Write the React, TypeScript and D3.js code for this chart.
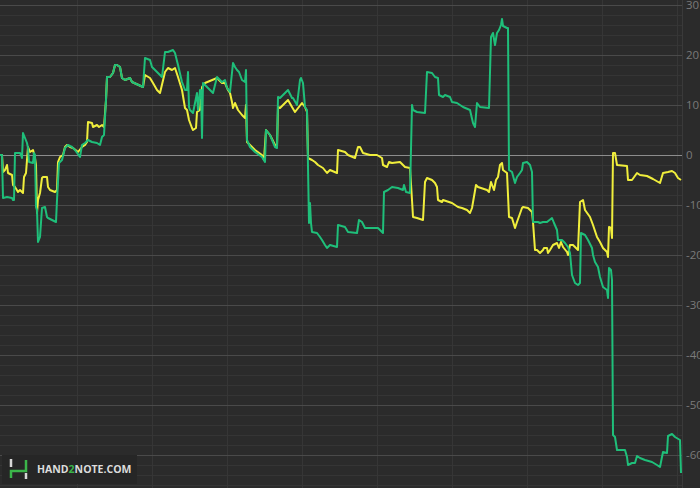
import React from "react";
import * as d3 from "d3";

// Hand number vs. winnings (big blinds) for two series
const greenSeries: [number, number][] = [
  [0, 0], [2, 0], [3, -8.6], [7, -8.4], [12, -8.6], [13, -9], [14, -9], [15, 0.4], [20, 0.4], [21, 0], [22, -0.6],
  [23, 4.4], [25, 3.4], [27, 2.4], [28, 1.4], [29, -1.4], [33, -1.6], [34, 0.4], [35, 0], [36, -10.4], [37, -11],
  [38, -17.4], [40, -16.4], [42, -10.6], [45, -10.4], [47, -12.4], [48, -12.6], [52, -13], [56, -13.4], [57, -9],
  [59, -1.6], [62, -1], [65, 1.4], [68, 2], [72, 1.6], [75, 1], [80, -0.4], [82, 2], [85, 2.4], [88, 3], [92, 2.6],
  [97, 2.4], [100, 2], [102, 3.6], [104, 4], [106, 11], [107, 15.6], [110, 15.6], [113, 16.4], [115, 18], [117, 18],
  [120, 17.6], [122, 15.4], [125, 15], [130, 15.4], [132, 14.6], [143, 13.6], [145, 19.4], [150, 19], [152, 17.6],
  [157, 16.6], [162, 15.6], [165, 20.6], [168, 20.6], [173, 21], [175, 20.4], [178, 18], [182, 14.6], [185, 13],
  [187, 13], [188, 16.6], [189, 9.6], [190, 9], [193, 8.4], [197, 12.4], [198, 9], [200, 13], [201, 13], [202, 3.4],
  [203, 14.4], [207, 13.6], [213, 12.4], [217, 15.6], [222, 14.6], [225, 15], [227, 13.4], [230, 12.6], [233, 18.4],
  [235, 17.6], [237, 17], [239, 16.6], [242, 15], [245, 14.6], [246, 17], [247, 3], [250, 1.6], [255, 0.6],
  [262, -0.4], [265, -1.4], [266, 5], [270, 4], [275, 1.6], [277, 1.4], [278, 11.6], [280, 11.4], [288, 13],
  [292, 11.4], [293, 11.4], [297, 10], [300, 15], [301, 15.4], [303, 14.4], [305, 9.6], [307, 9], [309, -13.6],
  [310, -9.6], [311, -13.6], [312, -15.4], [317, -15.6], [320, -16.4], [322, -17], [325, -18], [327, -18.6],
  [330, -18], [337, -18.4], [338, -14], [345, -14.4], [348, -15.4], [357, -15.6], [359, -13], [362, -13.4],
  [365, -14.6], [378, -14.6], [383, -15.6], [384, -7.4], [388, -7], [392, -6.4], [398, -6.6], [403, -7], [404, -6],
  [406, -7.4], [410, -7.6], [412, 10], [413, 9], [417, 8.6], [425, 8.4], [427, 16.6], [432, 16.4], [435, 15.6],
  [438, 15.4], [439, 12], [443, 11.6], [445, 12], [450, 11.6], [452, 10.6], [457, 10.4], [463, 9.6], [470, 9],
  [473, 6.4], [475, 5.6], [477, 10.4], [480, 9.6], [489, 9.4], [491, 23.6], [493, 24.4], [495, 22], [497, 24.4],
  [499, 25], [501, 26], [502, 27.2], [503, 25.8], [507, 25.4], [508, 25.4], [509, -3], [512, -3.4], [515, -5.6],
  [517, -4.4], [520, -3.6], [522, -3], [523, -1.6], [527, -1.4], [530, -2], [532, -3.4], [533, -13.4], [538, -13.4],
  [540, -13.6], [543, -13.4], [547, -13.4], [552, -12.6], [554, -13.6], [557, -15], [558, -17], [562, -17],
  [565, -17.6], [568, -18.4], [570, -19.6], [572, -24], [575, -25.6], [578, -26], [580, -25.6], [581, -15.6],
  [585, -16], [588, -17], [592, -18.6], [593, -20], [595, -21.4], [598, -22.4], [600, -24.4], [603, -26.4],
  [607, -27], [608, -28.6], [609, -22.6], [611, -23], [612, -25], [613, -56], [615, -56.4], [617, -59], [625, -59],
  [627, -60.4], [628, -62], [632, -61.6], [635, -61.6], [637, -60.2], [640, -60.6], [645, -61], [652, -61.4],
  [657, -62], [660, -62.4], [663, -59.4], [667, -59.6], [668, -56.2], [672, -55.8], [675, -56.4], [680, -57],
  [681, -63.6],
];

const yellowSeries: [number, number][] = [
  [0, 0], [2, 0], [3, -3.4], [5, -3], [7, -2], [8, -3.6], [12, -4], [13, -6], [15, -6.4], [18, -7.4], [20, -7],
  [23, -7.6], [24, -4.4], [26, -3.6], [27, -1], [28, 1.6], [30, 0.6], [33, 1], [35, -0.6], [36, -2], [37, -11.6],
  [38, -9], [40, -7.6], [42, -4.6], [43, -4.4], [47, -4.4], [48, -6.4], [50, -7], [55, -7.4], [57, -7], [58, -1.4],
  [60, -0.4], [63, 0], [65, 1.6], [67, 2], [70, 1.6], [73, 1.4], [78, 0.6], [82, 1.6], [85, 2], [87, 2.6], [88, 6.6],
  [92, 6.4], [93, 5.6], [97, 6], [99, 5.6], [102, 6], [104, 5.6], [106, 11], [107, 15.6], [110, 15.6], [113, 16.4],
  [115, 18], [117, 18], [120, 17.6], [122, 15.4], [125, 15], [130, 15.4], [132, 14.6], [143, 13.6], [145, 16],
  [150, 15.4], [153, 14.4], [157, 13], [160, 12.4], [165, 16.6], [168, 17.4], [172, 17], [175, 17.4], [178, 15.6],
  [182, 13], [185, 9.4], [187, 9], [189, 7], [192, 5.4], [193, 5], [196, 5.4], [197, 8.6], [200, 9], [202, 13.6],
  [205, 14.4], [217, 15.4], [222, 14.4], [225, 14.4], [228, 13], [230, 12.4], [232, 10.6], [233, 9.4], [235, 10.4],
  [238, 9], [242, 8], [245, 7.4], [246, 10], [247, 2.6], [250, 2], [255, 1], [262, 0], [264, -1], [266, 5], [270, 4],
  [275, 2], [277, 1.6], [278, 9.6], [280, 9.4], [288, 11], [292, 9.6], [295, 8.6], [302, 10.4], [305, 9.6],
  [307, 8.6], [308, -0.6], [312, -1], [315, -1.4], [318, -2], [323, -2.6], [327, -3.6], [330, -3], [337, -3.6],
  [338, 1], [345, 0.6], [348, 0], [355, -0.6], [358, 1.6], [360, 1.6], [363, 0.4], [370, 0], [377, 0], [382, -0.6],
  [383, -2], [387, -2.4], [389, -1.4], [392, -1.6], [400, -1.4], [403, -2], [405, -2.4], [410, -2.6], [412, -9],
  [413, -12.4], [417, -12.6], [423, -13], [425, -5.4], [427, -4.6], [432, -5], [435, -5.6], [437, -6.4], [438, -9],
  [442, -9.4], [443, -9], [452, -9.6], [458, -10.4], [462, -10.6], [467, -11], [470, -11.6], [472, -10.6],
  [476, -6], [478, -6.4], [487, -7], [489, -7.4], [491, -5.4], [494, -7], [496, -5], [498, -4.4], [500, -2],
  [502, -1.6], [503, -3], [507, -3.6], [509, -12.4], [512, -12.6], [515, -14.6], [517, -13.4], [522, -10.6],
  [523, -10.4], [528, -10.6], [532, -11.4], [533, -13.4], [535, -19], [537, -19], [540, -19.6], [543, -19],
  [544, -18.6], [547, -18.6], [548, -19.6], [550, -19], [553, -18], [557, -17.6], [559, -18.6], [561, -17.4],
  [563, -18.4], [567, -19.4], [568, -20], [570, -18], [573, -18], [576, -18.6], [578, -19], [580, -9.4], [583, -9],
  [585, -11], [590, -12.4], [593, -14], [597, -16.4], [600, -17.4], [603, -18.6], [607, -19.4], [608, -20.4],
  [609, -14.4], [611, -14.6], [612, -16.6], [613, 0.4], [615, 0.4], [617, -2], [627, -2.2], [628, -5], [632, -5],
  [637, -3.6], [640, -4], [647, -4.2], [653, -4.8], [660, -5.6], [663, -3.6], [668, -3.4], [672, -3.2],
  [675, -3.6], [678, -4.6], [681, -5],
];

const yTickLabels = [30, 20, 10, 0, -10, -20, -30, -40, -50, -60];
const yMinorValues = d3.range(-66, 31, 2);
const xGridHands = [77, 152, 227, 302, 377, 452, 527, 602, 677];

const W = 700;
const H = 488;
const PLOT_RIGHT = 682;

export default function App() {
  const x = d3.scaleLinear().domain([0, 682]).range([0, PLOT_RIGHT]);
  const y = d3.scaleLinear().domain([30, -60]).range([5, 455]);
  const line = d3
    .line<[number, number]>()
    .x((d) => x(d[0]))
    .y((d) => y(d[1]))
    .curve(d3.curveLinear);

  const font = "'Open Sans', 'Noto Sans', sans-serif";

  return (
    <svg
      width={W}
      height={H}
      style={{ position: "absolute", left: 0, top: 0, display: "block" }}
    >
      <rect x={0} y={0} width={W} height={H} fill="#2b2b2b" />
      {/* minor horizontal grid */}
      {yMinorValues
        .filter((v) => v % 10 !== 0)
        .map((v) => (
          <line key={"m" + v} x1={0} x2={PLOT_RIGHT} y1={Math.round(y(v)) + 0.5} y2={Math.round(y(v)) + 0.5} stroke="#353535" strokeWidth={1} />
        ))}
      {/* vertical grid */}
      {xGridHands.map((h) => (
        <line key={"v" + h} x1={Math.round(x(h)) + 0.5} x2={Math.round(x(h)) + 0.5} y1={0} y2={H} stroke="#363636" strokeWidth={1} />
      ))}
      <line x1={PLOT_RIGHT + 0.5} x2={PLOT_RIGHT + 0.5} y1={0} y2={H} stroke="#3a3a3a" strokeWidth={1} />
      {/* major horizontal grid */}
      {yMinorValues
        .filter((v) => v % 10 === 0)
        .map((v) => (
          <line key={"M" + v} x1={0} x2={PLOT_RIGHT} y1={Math.round(y(v)) + 0.5} y2={Math.round(y(v)) + 0.5} stroke={v === 0 ? "#8c8c8c" : "#4a4a4a"} strokeWidth={1} />
        ))}
      {/* series */}
      <path d={line(yellowSeries) || ""} fill="none" stroke="#f0ee3c" strokeWidth={2} strokeLinejoin="round" />
      <path d={line(greenSeries) || ""} fill="none" stroke="#1fbf7a" strokeWidth={2} strokeLinejoin="round" />
      {/* right axis labels */}
      {yTickLabels.map((v) => (
        <text key={"t" + v} x={686} y={y(v)} dy="0.35em" fontSize={11.5} fill="#7a7a7a" fontFamily={font}>
          {v}
        </text>
      ))}
      {/* logo */}
      <g>
        <rect x={2} y={455} width={135} height={29} fill="#262626" />
        <path d="M11,459 V467" stroke="#d8d8d8" strokeWidth={2.5} fill="none" />
        <path d="M11,478 V471 H26 V460" stroke="#3bb54a" strokeWidth={2.5} fill="none" />
        <path d="M26,473 V479" stroke="#d8d8d8" strokeWidth={2.5} fill="none" />
        <text x={37} y={473} fontSize={10.5} fontWeight="bold" fill="#dcdcdc" fontFamily={font}>
          HAND<tspan fill="#3bb54a">2</tspan>NOTE.COM
        </text>
      </g>
    </svg>
  );
}
